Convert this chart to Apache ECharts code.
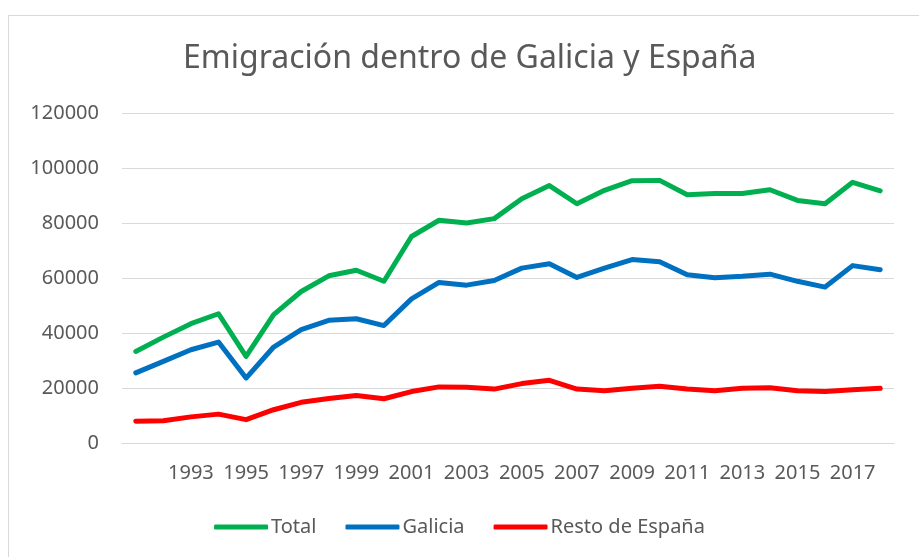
<!DOCTYPE html>
<html>
<head>
<meta charset="utf-8">
<script src="https://cdn.jsdelivr.net/npm/echarts@6/dist/echarts.min.js"></script>
<style>
  html, body { margin: 0; padding: 0; background: #fff; }
  #wrap { position: relative; width: 919px; height: 557px; overflow: hidden; }
  #frame { position: absolute; left: 8px; top: 15px; width: 930px; height: 570px; border: 1px solid #d9d9d9; }
  #chart { position: absolute; left: 0; top: 0; width: 919px; height: 557px; }
</style>
</head>
<body>
<div id="wrap">
  <div id="frame"></div>
  <div id="chart"></div>
</div>
<script>
// años 1991-2018
const years = [];
for (let y = 1991; y <= 2018; y++) years.push(String(y));

const total = [33300, 38500, 43400, 47000, 31500, 46700, 55100, 60800, 62800, 58800,
  75100, 81000, 80000, 81600, 88800, 93600, 87000, 91900, 95400, 95500,
  90300, 90700, 90700, 92100, 88200, 87000, 94800, 91700];

const galicia = [25500, 29700, 33900, 36700, 23600, 34900, 41200, 44600, 45200, 42700,
  52400, 58400, 57400, 59100, 63600, 65200, 60200, 63600, 66700, 65900,
  61200, 60100, 60600, 61400, 58800, 56700, 64500, 63000];

const restoEspana = [7900, 8100, 9500, 10500, 8500, 12100, 14800, 16200, 17300, 16100,
  18700, 20400, 20300, 19600, 21600, 22800, 19600, 19000, 19900, 20600,
  19600, 19000, 19900, 20100, 19000, 18700, 19400, 19900];

const font = "Noto Sans";
const grey = "#595959";

const myChart = echarts.init(document.getElementById("chart"));

function lineSerie(name, data, color) {
  return {
    name: name,
    type: "line",
    data: data,
    symbol: "none",
    smooth: false,
    lineStyle: { width: 5, color: color, cap: "round", join: "round" },
    itemStyle: { color: color },
  };
}

const option = {
  animation: false,
  title: {
    text: "Emigración dentro de Galicia y España",
    left: 178,
    top: 38,
    padding: 5,
    textStyle: { fontFamily: font, fontSize: 32, fontWeight: "normal", color: grey },
  },
  grid: {
    left: 122,
    right: 25,
    top: 113,
    bottom: 114,
  },
  legend: {
    bottom: 15,
    left: "center",
    itemWidth: 54,
    itemHeight: 5,
    itemGap: 29,
    icon: "roundRect",
    textStyle: { fontFamily: font, fontSize: 20, color: grey, padding: [0, 0, 0, -2] },
    data: ["Total", "Galicia", "Resto de España"],
  },
  xAxis: {
    type: "category",
    data: years,
    boundaryGap: true,
    axisTick: { show: false },
    axisLine: { lineStyle: { color: "#d9d9d9", width: 1 } },
    axisLabel: {
      fontFamily: font,
      fontSize: 20,
      color: grey,
      margin: 20,
      interval: (i, v) => Number(v) % 2 === 1 && Number(v) > 1991,
    },
  },
  yAxis: {
    type: "value",
    min: 0,
    max: 120000,
    interval: 20000,
    axisLine: { show: false },
    axisTick: { show: false },
    splitLine: { lineStyle: { color: "#d9d9d9", width: 1 } },
    axisLabel: {
      fontFamily: font,
      fontSize: 20,
      color: grey,
      margin: 23,
      formatter: (v) => String(v),
    },
  },
  series: [
    lineSerie("Total", total, "#00B050"),
    lineSerie("Galicia", galicia, "#0070C0"),
    lineSerie("Resto de España", restoEspana, "#FF0000"),
  ],
};

myChart.setOption(option);
</script>
</body>
</html>
